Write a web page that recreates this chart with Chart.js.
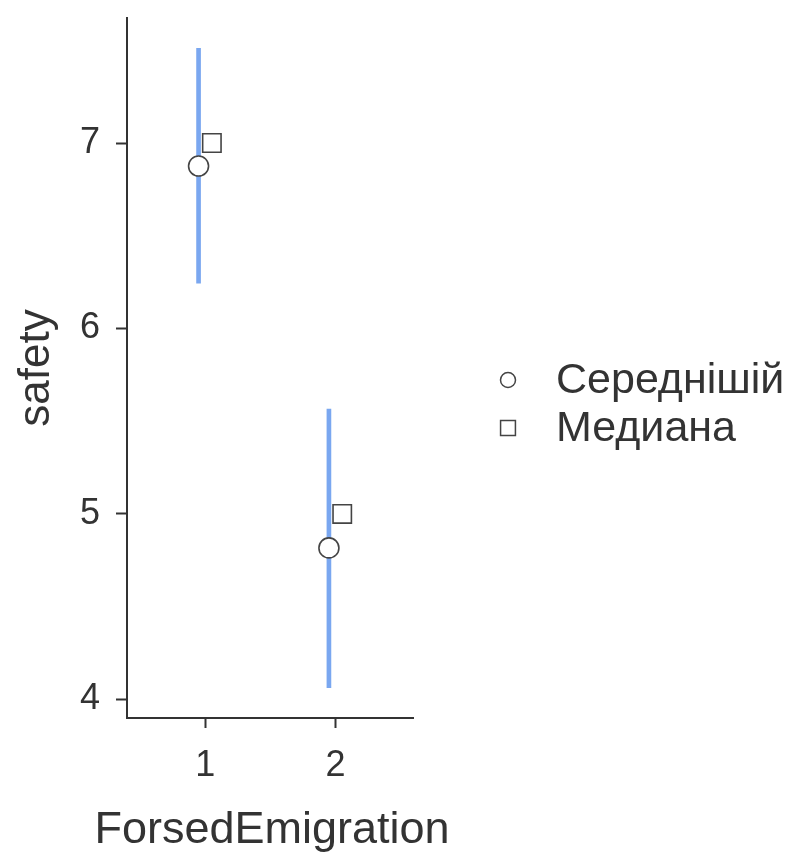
<!DOCTYPE html>
<html>
<head>
<meta charset="utf-8">
<script src="https://cdn.jsdelivr.net/npm/chart.js@4"></script>
<style>
  html, body { margin: 0; padding: 0; background: #ffffff; }
  #wrap { width: 804px; height: 855px; position: relative; }
</style>
</head>
<body>
<div id="wrap"><canvas id="c" width="804" height="855"></canvas></div>
<script>
// ---- data ----
const categories = [1, 2];
const meanValues = [6.876, 4.817];
const medianValues = [7, 5];
const ciLower = [6.244, 4.063];
const ciUpper = [7.51, 5.566];
const yTicks = [4, 5, 6, 7];
const xTicks = [1, 2];
const seriesLabels = ['Середнішій', 'Медиана'];
const xTitle = 'ForsedEmigration';
const yTitle = 'safety';

const dodge = 0.051;
const FONT = "Arial, Helvetica, sans-serif";
const TEXT = '#333333';

// legend at the right + x-axis title (drawn without Chart.js' maxWidth squeeze)
const extrasPlugin = {
  id: 'extras',
  afterDraw(chart) {
    const ctx = chart.ctx;
    const items = chart.data.datasets.filter(d => d.label);
    const x0 = 508, y0 = 380, gap = 48;
    ctx.save();
    items.forEach((d, i) => {
      const y = y0 + i * gap;
      ctx.lineWidth = 1.5;
      ctx.strokeStyle = '#444';
      ctx.fillStyle = '#fff';
      Chart.helpers.drawPoint(ctx, {
        pointStyle: d.pointStyle, radius: d.pointStyle === 'rect' ? 10.5 : 7.5,
        borderWidth: 1.5, rotation: 0
      }, x0, y);
      ctx.fillStyle = TEXT;
      ctx.font = '43px ' + FONT;
      ctx.textBaseline = 'middle';
      ctx.textAlign = 'left';
      ctx.fillText(d.label, 556, y + 1);
    });
    const xs = chart.scales.x;
    ctx.fillStyle = TEXT;
    ctx.font = '45px ' + FONT;
    ctx.textAlign = 'center';
    ctx.textBaseline = 'alphabetic';
    ctx.fillText(xTitle, (xs.left + xs.right) / 2 + 2, 843);
    ctx.restore();
  }
};

new Chart(document.getElementById('c'), {
  type: 'bar',
  data: {
    datasets: [
      {
        type: 'bar',
        data: categories.map((c, i) => ({ x: c - dodge, y: [ciLower[i], ciUpper[i]] })),
        backgroundColor: '#7aa7f0',
        borderWidth: 0,
        barThickness: 4,
        grouped: false,
        order: 3
      },
      {
        type: 'line',
        label: seriesLabels[0],
        data: categories.map((c, i) => ({ x: c - dodge, y: meanValues[i] })),
        showLine: false,
        pointStyle: 'circle',
        pointRadius: 10,
        pointBorderWidth: 1.6,
        pointBorderColor: '#444',
        pointBackgroundColor: '#fff',
        order: 1
      },
      {
        type: 'line',
        label: seriesLabels[1],
        data: categories.map((c, i) => ({ x: c + dodge, y: medianValues[i] })),
        showLine: false,
        pointStyle: 'rect',
        pointRadius: 13,
        pointBorderWidth: 1.6,
        pointBorderColor: '#444',
        pointBackgroundColor: '#fff',
        order: 2
      }
    ]
  },
  options: {
    responsive: false,
    animation: false,
    events: [],
    layout: { padding: { top: 18, right: 391, left: 0, bottom: 0 } },
    plugins: { legend: { display: false }, tooltip: { enabled: false } },
    scales: {
      x: {
        type: 'linear',
        offset: false,
        min: 0.4,
        max: 2.594,
        afterBuildTicks: s => { s.ticks = xTicks.map(v => ({ value: v })); },
        afterFit: s => { s.height = 137; s.paddingLeft = 0; s.paddingRight = 0; },
        border: { display: true, color: '#333', width: 2 },
        grid: { display: true, offset: false, drawOnChartArea: false, drawTicks: true, tickLength: 10, tickWidth: 2, tickColor: '#333' },
        ticks: { color: TEXT, font: { family: FONT, size: 36 }, padding: 16, callback: v => String(v) },
        title: { display: false, text: xTitle }
      },
      y: {
        type: 'linear',
        min: 3.9,
        max: 7.674,
        afterBuildTicks: s => { s.ticks = yTicks.map(v => ({ value: v })); },
        afterFit: s => { s.width = 127; s.paddingTop = 0; s.paddingBottom = 0; },
        border: { display: true, color: '#333', width: 2 },
        grid: { display: true, drawOnChartArea: false, drawTicks: true, tickLength: 11, tickWidth: 2, tickColor: '#333' },
        ticks: { color: TEXT, font: { family: FONT, size: 36 }, padding: 16, callback: v => String(v) },
        title: { display: true, text: yTitle, color: TEXT, font: { family: FONT, size: 44, lineHeight: 1 }, padding: { top: 15, bottom: 0 } }
      }
    }
  },
  plugins: [extrasPlugin]
});
</script>
</body>
</html>
